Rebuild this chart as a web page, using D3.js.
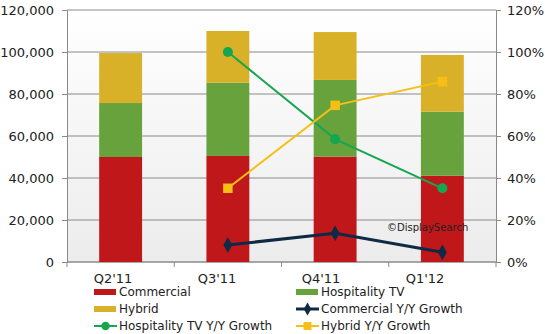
<!DOCTYPE html>
<html>
<head>
<meta charset="utf-8">
<script src="https://cdn.jsdelivr.net/npm/d3@7"></script>
<style>
  body { margin: 0; background: #fff; }
  svg text { font-family: "DejaVu Sans", Verdana, sans-serif; fill: #222; }
</style>
</head>
<body>
<div id="chart"></div>
<script>
const quarters = ["Q2'11", "Q3'11", "Q4'11", "Q1'12"];
const commercial = [50000, 50500, 50200, 41100];
const hospitality = [25700, 34900, 36500, 30500];
const hybrid = [23800, 24600, 22800, 27000];
const commercialGrowth = [null, 8.1, 13.7, 4.6];
const hospitalityGrowth = [null, 100, 58.5, 35.1];
const hybridGrowth = [null, 35.1, 74.6, 85.9];

const width = 545, height = 334;
const m = {left: 67, right: 49, top: 10, bottom: 72};

const svg = d3.select("#chart")
    .append("svg")
    .attr("width", width)
    .attr("height", height);

const x = d3.scaleBand()
    .domain(quarters)
    .range([m.left, width - m.right])
    .paddingInner(0.6)
    .paddingOuter(0.3);

// category labels sit on a slightly tighter spacing than the bars
const xLabel = d3.scalePoint()
    .domain(quarters)
    .range([113, 425]);

const y = d3.scaleLinear().domain([0, 120000]).range([height - m.bottom, m.top]);
const y2 = d3.scaleLinear().domain([0, 120]).range([height - m.bottom, m.top]);

// plot background, fades to light grey at the bottom
const defs = svg.append("defs");
const grad = defs.append("linearGradient")
    .attr("id", "bg").attr("x1", 0).attr("y1", 0).attr("x2", 0).attr("y2", 1);
grad.append("stop").attr("offset", "0%").attr("stop-color", "#ffffff");
grad.append("stop").attr("offset", "100%").attr("stop-color", "#ececec");

svg.append("rect")
    .attr("x", m.left).attr("y", m.top)
    .attr("width", width - m.left - m.right)
    .attr("height", height - m.top - m.bottom)
    .attr("fill", "url(#bg)");

// gridlines
svg.append("g")
    .selectAll("line")
    .data(y.ticks(6))
    .join("line")
    .attr("x1", m.left).attr("x2", width - m.right)
    .attr("y1", d => y(d)).attr("y2", d => y(d))
    .attr("stroke", "#8a8a8a");

// left axis
const yAxis = svg.append("g")
    .attr("transform", `translate(${m.left},0)`)
    .call(d3.axisLeft(y).ticks(6).tickFormat(d3.format(",")).tickSize(5).tickPadding(8));
yAxis.select(".domain").attr("stroke", "#8a8a8a");
yAxis.selectAll(".tick line").attr("stroke", "#8a8a8a");
yAxis.selectAll("text").attr("font-size", 13);

// right axis
const y2Axis = svg.append("g")
    .attr("transform", `translate(${width - m.right},0)`)
    .call(d3.axisRight(y2).ticks(6).tickFormat(d => d + "%").tickSize(5).tickPadding(6));
y2Axis.select(".domain").attr("stroke", "#8a8a8a");
y2Axis.selectAll(".tick line").attr("stroke", "#8a8a8a");
y2Axis.selectAll("text").attr("font-size", 13);

// bottom axis: ticks sit between categories
const bounds = d3.range(quarters.length + 1).map(i => m.left + i * (width - m.left - m.right) / quarters.length);
svg.append("line")
    .attr("x1", m.left).attr("x2", width - m.right)
    .attr("y1", y(0)).attr("y2", y(0))
    .attr("stroke", "#8a8a8a");
svg.append("g")
    .selectAll("line")
    .data(bounds)
    .join("line")
    .attr("x1", d => d).attr("x2", d => d)
    .attr("y1", y(0)).attr("y2", y(0) + 5)
    .attr("stroke", "#8a8a8a");
svg.append("g")
    .selectAll("text")
    .data(quarters)
    .join("text")
    .attr("x", d => xLabel(d))
    .attr("y", y(0) + 21)
    .attr("text-anchor", "middle")
    .attr("font-size", 13)
    .text(d => d);

// stacked bars
const rows = quarters.map((q, i) => ({q, commercial: commercial[i], hospitality: hospitality[i], hybrid: hybrid[i]}));
const keys = ["commercial", "hospitality", "hybrid"];
const barColors = {commercial: "#c0171b", hospitality: "#68a23d", hybrid: "#d9b128"};
const stacked = d3.stack().keys(keys)(rows);

svg.append("g")
    .selectAll("g")
    .data(stacked)
    .join("g")
    .attr("fill", s => barColors[s.key])
    .selectAll("rect")
    .data(s => s)
    .join("rect")
    .attr("x", d => x(d.data.q))
    .attr("width", x.bandwidth())
    .attr("y", d => y(d[1]))
    .attr("height", d => y(d[0]) - y(d[1]));

svg.append("text")
    .attr("x", 387).attr("y", 231)
    .attr("font-size", 10)
    .text("\u00a9DisplaySearch");

// growth lines
const cx = q => x(q) + x.bandwidth() / 2;
const growth = [
  {name: "commercial", values: commercialGrowth, color: "#0e2a44", width: 3, marker: "diamond"},
  {name: "hospitality", values: hospitalityGrowth, color: "#17a650", width: 2, marker: "circle"},
  {name: "hybrid", values: hybridGrowth, color: "#f5bf16", width: 2, marker: "square"}
];
const line = d3.line()
    .defined(d => d.v != null)
    .x(d => cx(d.q))
    .y(d => y2(d.v));

const symbols = {diamond: d3.symbolDiamond, circle: d3.symbolCircle, square: d3.symbolSquare};
const symSize = {diamond: 70, circle: 80, square: 90};

growth.forEach(s => {
  const pts = quarters.map((q, i) => ({q, v: s.values[i]}));
  svg.append("path")
      .datum(pts)
      .attr("d", line)
      .attr("fill", "none")
      .attr("stroke", s.color)
      .attr("stroke-width", s.width);
  svg.append("g")
      .selectAll("path")
      .data(pts.filter(d => d.v != null))
      .join("path")
      .attr("transform", d => `translate(${cx(d.q)},${y2(d.v)})`)
      .attr("d", d3.symbol(symbols[s.marker], symSize[s.marker]))
      .attr("fill", s.color);
});

// legend
const legend = [
  {label: "Commercial", type: "bar", color: barColors.commercial, col: 0, row: 0},
  {label: "Hospitality TV", type: "bar", color: barColors.hospitality, col: 1, row: 0},
  {label: "Hybrid", type: "bar", color: barColors.hybrid, col: 0, row: 1},
  {label: "Commercial Y/Y Growth", type: "line", s: growth[0], col: 1, row: 1},
  {label: "Hospitality TV Y/Y Growth", type: "line", s: growth[1], col: 0, row: 2},
  {label: "Hybrid Y/Y Growth", type: "line", s: growth[2], col: 1, row: 2}
];
const colX = [94, 296], rowY = [292, 309, 326];
const lg = svg.append("g")
    .selectAll("g")
    .data(legend)
    .join("g")
    .attr("transform", d => `translate(${colX[d.col]},${rowY[d.row]})`);
lg.filter(d => d.type === "bar")
    .append("rect")
    .attr("x", 0).attr("y", -3).attr("width", 22).attr("height", 6)
    .attr("fill", d => d.color);
lg.filter(d => d.type === "line")
    .append("line")
    .attr("x1", 0).attr("x2", 23).attr("y1", 0).attr("y2", 0)
    .attr("stroke", d => d.s.color)
    .attr("stroke-width", d => d.s.width);
lg.filter(d => d.type === "line")
    .append("path")
    .attr("transform", "translate(11.5,0)")
    .attr("d", d => d3.symbol(symbols[d.s.marker], symSize[d.s.marker] * 0.7)())
    .attr("fill", d => d.s.color);
lg.append("text")
    .attr("x", 25).attr("y", 0)
    .attr("dy", "0.35em")
    .attr("font-size", 12)
    .text(d => d.label);
</script>
</body>
</html>
